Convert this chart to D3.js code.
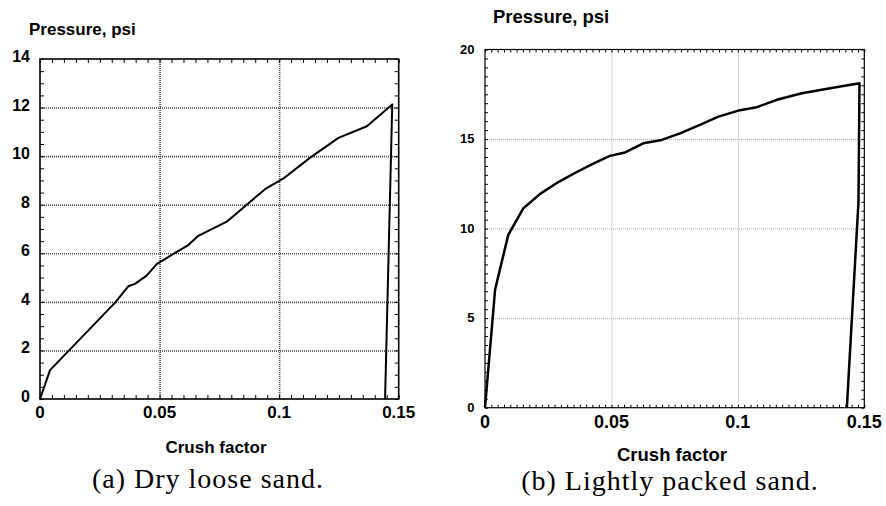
<!DOCTYPE html>
<html>
<head>
<meta charset="utf-8">
<script src="https://cdn.jsdelivr.net/npm/d3@7"></script>
<style>
  body { margin: 0; background: #fff; }
  svg { display: block; }
</style>
</head>
<body>
<div id="chart"></div>
<script>
// (a) dry loose sand: crush factor vs pressure (psi)
const looseCrush = [0, 0.0042, 0.0314, 0.0351, 0.0369, 0.0397, 0.0446, 0.0488, 0.0572, 0.062, 0.0662,
  0.0781, 0.0941, 0.1018, 0.113, 0.1248, 0.1367, 0.1473, 0.1443]
const loosePressure = [0, 1.19, 3.97, 4.42, 4.64, 4.74, 5.08, 5.55, 6.06, 6.34, 6.72,
  7.3, 8.64, 9.08, 9.94, 10.75, 11.23, 12.13, 0]

// (b) lightly packed sand
const packedCrush = [0, 0.004, 0.0092, 0.0152, 0.0218, 0.029, 0.0363, 0.0428, 0.0494, 0.0554, 0.0626,
  0.0699, 0.0771, 0.085, 0.0923, 0.1002, 0.1075, 0.1154, 0.1253, 0.1365, 0.1481, 0.1477, 0.1431]
const packedPressure = [0, 6.6, 9.65, 11.14, 11.94, 12.6, 13.16, 13.63, 14.06, 14.25, 14.76,
  14.95, 15.32, 15.79, 16.25, 16.59, 16.78, 17.19, 17.56, 17.84, 18.12, 11.5, 0]

const crushTicks = [0, 0.05, 0.1, 0.15]
const looseTicks = [0, 2, 4, 6, 8, 10, 12, 14]
const packedTicks = [0, 5, 10, 15, 20]

const svg = d3.select("#chart").append("svg")
  .attr("width", 886)
  .attr("height", 506)

const fmt = d => d === 0 ? "0" : d3.format("~g")(d)

function panel(o) {
  const x = d3.scaleLinear().domain([0, 0.15]).range([o.left, o.right])
  const y = d3.scaleLinear().domain([0, o.yMax]).range([o.bottom, o.top])
  const g = svg.append("g")
  const w = o.right - o.left, h = o.bottom - o.top

  // grid lines (dotted)
  g.append("g")
    .attr("transform", `translate(0,${o.bottom})`)
    .call(d3.axisBottom(x).tickValues(crushTicks.slice(1, -1)).tickSize(-h).tickFormat(""))
    .call(a => a.select(".domain").remove())
    .selectAll("line").attr("stroke", o.grid).attr("stroke-width", o.gridW).attr("stroke-dasharray", "1,1")
  g.append("g")
    .attr("transform", `translate(${o.left},0)`)
    .call(d3.axisLeft(y).tickValues(o.yTicks.slice(1, -1)).tickSize(-w).tickFormat(""))
    .call(a => a.select(".domain").remove())
    .selectAll("line").attr("stroke", o.grid).attr("stroke-width", o.gridW).attr("stroke-dasharray", "1,1")

  // minor ticks pointing inward on all four sides
  const xMinor = d3.range(0, 0.15 + 1e-9, o.xStep)
  const yMinor = d3.range(0, o.yMax + 1e-9, o.yStep)
  const tickAxes = [
    [d3.axisBottom(x).tickValues(xMinor), `translate(0,${o.bottom})`],
    [d3.axisTop(x).tickValues(xMinor), `translate(0,${o.top})`],
    [d3.axisLeft(y).tickValues(yMinor), `translate(${o.left},0)`],
    [d3.axisRight(y).tickValues(yMinor), `translate(${o.right},0)`]
  ]
  tickAxes.forEach(([ax, tr]) => {
    g.append("g").attr("transform", tr)
      .call(ax.tickSize(-o.tick).tickFormat(""))
      .call(a => a.select(".domain").remove())
      .selectAll("line").attr("stroke", "#000").attr("stroke-width", 1)
  })

  // frame
  g.append("rect")
    .attr("x", o.left).attr("y", o.top)
    .attr("width", w).attr("height", h)
    .attr("fill", "none").attr("stroke", "#000").attr("stroke-width", o.frameW)

  // curve
  const pts = o.xs.map((v, i) => [v, o.ys[i]])
  g.append("path")
    .datum(pts)
    .attr("fill", "none")
    .attr("stroke", "#000")
    .attr("stroke-width", o.lineW)
    .attr("stroke-linejoin", "round")
    .attr("d", d3.line().x(d => x(d[0])).y(d => y(d[1])))

  // tick labels
  g.selectAll(null).data(crushTicks).join("text")
    .attr("x", d => x(d)).attr("y", o.xLabY)
    .attr("text-anchor", "middle")
    .style("font", `bold ${o.xFont}px "Liberation Sans", Arial, sans-serif`)
    .text(fmt)
  g.selectAll(null).data(o.yTicks).join("text")
    .attr("x", o.left - o.yGap).attr("y", d => y(d) + o.yShift)
    .attr("text-anchor", "end")
    .style("font", `bold ${o.yFont}px "Liberation Sans", Arial, sans-serif`)
    .text(fmt)

  // axis titles
  g.append("text")
    .attr("x", o.yTitleX).attr("y", o.yTitleY)
    .style("font", `bold ${o.titleFont}px "Liberation Sans", Arial, sans-serif`)
    .text("Pressure, psi")
  g.append("text")
    .attr("x", o.xTitleX).attr("y", o.xTitleY)
    .attr("text-anchor", "middle")
    .style("font", `bold ${o.titleFont}px "Liberation Sans", Arial, sans-serif`)
    .text("Crush factor")

  // caption
  g.append("text")
    .attr("x", o.capX).attr("y", o.capY)
    .attr("text-anchor", "middle")
    .style("font", `28px "Liberation Serif", "Times New Roman", serif`)
    .style("letter-spacing", "1px")
    .text(o.caption)
}

panel({
  xs: looseCrush, ys: loosePressure, yMax: 14, yTicks: looseTicks,
  left: 40, right: 398.7, top: 59, bottom: 399,
  xStep: 0.005, yStep: 0.5, tick: 4,
  grid: "#444", gridW: 1.6, frameW: 1.6, lineW: 2,
  xFont: 17, xLabY: 418, yFont: 16, yGap: 10, yShift: 3,
  titleFont: 17, yTitleX: 29, yTitleY: 35, xTitleX: 216, xTitleY: 453,
  capX: 208, capY: 488, caption: "(a) Dry loose sand."
})

panel({
  xs: packedCrush, ys: packedPressure, yMax: 20, yTicks: packedTicks,
  left: 485, right: 864.3, top: 49.5, bottom: 407.7,
  xStep: 0.0025, yStep: 0.5, tick: 3,
  grid: "#aaa", gridW: 1, frameW: 1.2, lineW: 2.5,
  xFont: 18, xLabY: 428, yFont: 13, yGap: 10.5, yShift: 4,
  titleFont: 18.5, yTitleX: 493, yTitleY: 23, xTitleX: 672, xTitleY: 461,
  capX: 670, capY: 490, caption: "(b) Lightly packed sand."
})
</script>
</body>
</html>
